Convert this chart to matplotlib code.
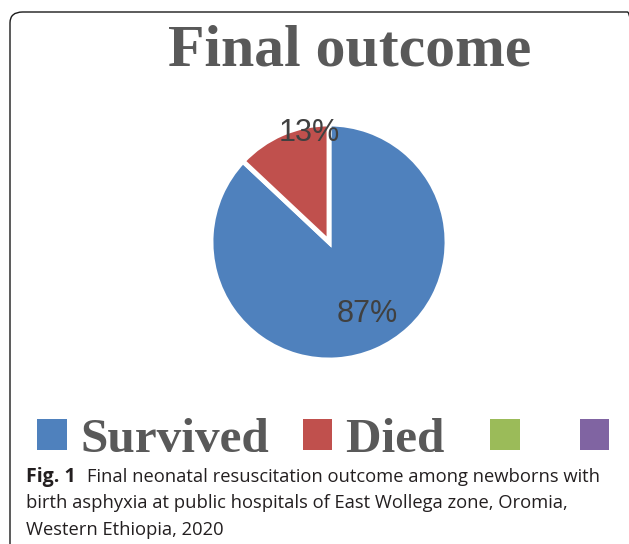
import matplotlib
matplotlib.use("Agg")
import matplotlib.pyplot as plt
from matplotlib.patches import FancyBboxPatch, Patch
import numpy as np

categories = ["Survived", "Died", "", ""]
values = [87, 13]
colors = ["#4F81BD", "#C0504D", "#9BBB59", "#8064A2"]
title = "Final outcome"
caption_bold = "Fig. 1"
caption_lines = ["Final neonatal resuscitation outcome among newborns with",
                 "birth asphyxia at public hospitals of East Wollega zone, Oromia,",
                 "Western Ethiopia, 2020"]

W, H = 629, 544
fig = plt.figure(figsize=(W / 100, H / 100), dpi=100)
fig.patch.set_facecolor("white")

def fx(px): return px / W
def fy(py): return 1 - py / H

# Rounded border (extends beyond right and bottom)
border = FancyBboxPatch((fx(10), fy(560)), fx(640) - fx(10), fy(12) - fy(560),
                        boxstyle="round,pad=0,rounding_size=0.02",
                        transform=fig.transFigure, fill=False,
                        edgecolor="#1a1a1a", linewidth=1.0, clip_on=False)
fig.patches.append(border)

# Title
fig.text(fx(350), fy(66), title, ha="center", va="baseline",
         fontsize=43, fontweight="bold", family="Liberation Serif", color="#595959")

# Pie
cx, cy, r = 329, 242, 118
ax = fig.add_axes([fx(cx - r), fy(cy + r), 2 * r / W, 2 * r / H])
wedges, texts, autotexts = ax.pie(values, colors=colors[:2], startangle=90,
                                  counterclock=False, autopct="%1.0f%%",
                                  pctdistance=0.7, radius=1,
                                  wedgeprops=dict(edgecolor="white", linewidth=3.5),
                                  textprops=dict(fontsize=22, color="#404040",
                                                 family="Liberation Sans"))
ax.set_xlim(-1, 1)
ax.set_ylim(-1, 1)
ax.set_aspect("equal")
ax.axis("off")
for w in wedges:
    w.set_clip_on(False)
# label placement (polar)
label_pos = [(0.69, -62), (0.94, 100)]
for t, (d, a) in zip(autotexts, label_pos):
    t.set_position((d * np.cos(np.radians(a)), d * np.sin(np.radians(a))))

# Legend (trailing spaces reproduce the wider gaps of the original legend)
handles = [Patch(facecolor=c, edgecolor="none") for c in colors]
legend_labels = [categories[0], categories[1] + " ", categories[2] + " ", categories[3]]
leg = fig.legend(handles, legend_labels, loc="center left", bbox_to_anchor=(fx(37), fy(440)),
                 ncol=4, frameon=False, handlelength=0.6, handleheight=0.6,
                 handletextpad=0.28, columnspacing=0.68, borderpad=0, borderaxespad=0,
                 prop=dict(family="Liberation Serif", weight="bold", size=35.5))
for t in leg.get_texts():
    t.set_color("#595959")

# Caption
fs = 13.2
ink = "#231f20"
fig.text(fx(26), fy(482), caption_bold, ha="left", va="baseline", fontsize=14,
         fontweight="bold", family="Open Sans", color=ink)
fig.text(fx(87), fy(482), caption_lines[0], ha="left", va="baseline", fontsize=fs,
         family="Open Sans", color=ink)
fig.text(fx(26), fy(508.5), caption_lines[1], ha="left", va="baseline", fontsize=fs,
         family="Open Sans", color=ink)
fig.text(fx(26), fy(535), caption_lines[2], ha="left", va="baseline", fontsize=fs,
         family="Open Sans", color=ink)

fig.savefig("out.png", dpi=100)
